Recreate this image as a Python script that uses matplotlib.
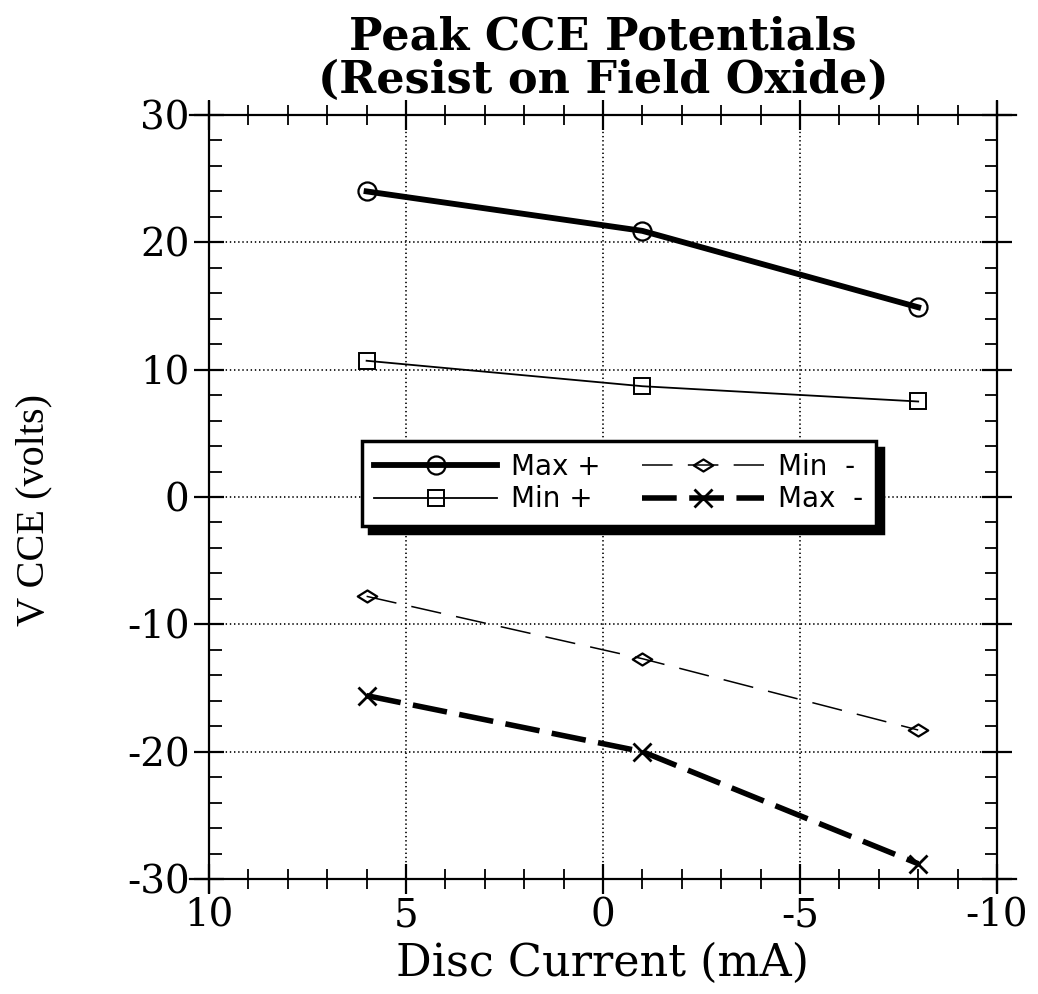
import matplotlib
matplotlib.use("Agg")
import matplotlib.pyplot as plt
from matplotlib.lines import Line2D
from matplotlib.path import Path
from matplotlib.ticker import MultipleLocator, FuncFormatter

# ---- data ----
disc_current = [6, -1, -8]
max_plus = [24.0, 20.9, 14.9]
min_plus = [10.7, 8.7, 7.5]
min_minus = [-7.8, -12.7, -18.3]
max_minus = [-15.6, -20.0, -28.8]
series_labels = ["Max +", "Min +", "Min  -", "Max  -"]
title_text = "Peak CCE Potentials\n(Resist on Field Oxide)"
xlabel_text = "Disc Current (mA)"
ylabel_text = "V CCE (volts)"

plt.rcParams['lines.scale_dashes'] = False
wide_serif = ['DejaVu Serif']
serif = ['Liberation Serif', 'DejaVu Serif']
sans = ['DejaVu Sans']

fig = plt.figure(figsize=(10.38, 9.94), dpi=100)
ax = fig.add_axes([209/1038, 1-879/994, 788/1038, 764/994])

ax.set_xlim(10, -10)
ax.set_ylim(-30, 30)

diamond = Path([(-1, 0), (0, 0.62), (1, 0), (0, -0.62), (-1, 0)],
               [Path.MOVETO, Path.LINETO, Path.LINETO, Path.LINETO, Path.CLOSEPOLY])

h1, = ax.plot(disc_current, max_plus, color='black', lw=4.2, marker='o', ms=13,
              mfc='none', mec='black', mew=1.6, label=series_labels[0])
h2, = ax.plot(disc_current, min_plus, color='black', lw=1.3, marker='s', ms=12,
              mfc='none', mec='black', mew=1.4, label=series_labels[1])
h3, = ax.plot(disc_current, min_minus, color='black', lw=1.1, ls=(0, (22, 11)),
              marker=diamond, ms=14, mfc='none', mec='black', mew=1.6, label=series_labels[2])
h4, = ax.plot(disc_current, max_minus, color='black', lw=4.0, ls=(0, (25, 9)),
              marker='x', ms=13, mec='black', mew=2.0, label=series_labels[3])

# grid
ax.grid(True, which='major', color='black', ls=(0, (1, 2)), lw=1.2)

# ticks
ax.xaxis.set_major_locator(MultipleLocator(5))
ax.xaxis.set_minor_locator(MultipleLocator(1))
ax.yaxis.set_major_locator(MultipleLocator(10))
ax.yaxis.set_minor_locator(MultipleLocator(2))
fmt = FuncFormatter(lambda v, p: f"{int(round(v))}")
ax.xaxis.set_major_formatter(fmt)
ax.yaxis.set_major_formatter(fmt)
ax.tick_params(which='major', direction='inout', length=22, width=1.6,
               top=True, right=True, labelsize=28, pad=3)
ax.tick_params(axis='x', which='minor', direction='inout', length=14, width=1.3,
               top=True, bottom=True)
ax.tick_params(axis='y', which='minor', direction='in', length=9, width=1.3,
               left=True, right=True)
ax.tick_params(axis='x', which='major', pad=2)
for lab in ax.get_xticklabels() + ax.get_yticklabels():
    lab.set_family(wide_serif)

# extended spines
for s in ax.spines.values():
    s.set_visible(False)
ex, ey = 0.024, 0.017
kw = dict(transform=ax.transAxes, color='black', lw=1.6, clip_on=False, zorder=5)
ax.add_line(Line2D([-ex, 1 + ex], [0, 0], **kw))
ax.add_line(Line2D([-ex, 1 + ex], [1, 1], **kw))
ax.add_line(Line2D([0, 0], [-ey, 1 + ey], **kw))
ax.add_line(Line2D([1, 1], [-ey, 1 + ey], **kw))

ax.set_title(title_text, family=wide_serif, fontweight='bold', fontsize=32,
             linespacing=1.0, pad=16)
ax.set_xlabel(xlabel_text, family=wide_serif, fontsize=32)
ax.xaxis.set_label_coords(0.5, -0.11)
ax.xaxis.label.set_va('center')
ax.set_ylabel(ylabel_text, family=serif, fontsize=29)
ax.yaxis.set_label_coords(-0.222, 0.483)
ax.yaxis.label.set_va('center')

leg = ax.legend(handles=[h1, h2, h3, h4], ncol=2, loc='center',
                bbox_to_anchor=(0.52, 0.518), prop={'family': sans, 'size': 20},
                frameon=True, fancybox=False, edgecolor='black', framealpha=1,
                shadow={'ox': 5, 'oy': -5, 'facecolor': 'black', 'edgecolor': 'black', 'alpha': 1},
                handlelength=4.4, columnspacing=1.5, handletextpad=0.5,
                labelspacing=0.15, borderpad=0.45)
leg.get_frame().set_linewidth(2.5)

fig.savefig("out.png", dpi=100)
